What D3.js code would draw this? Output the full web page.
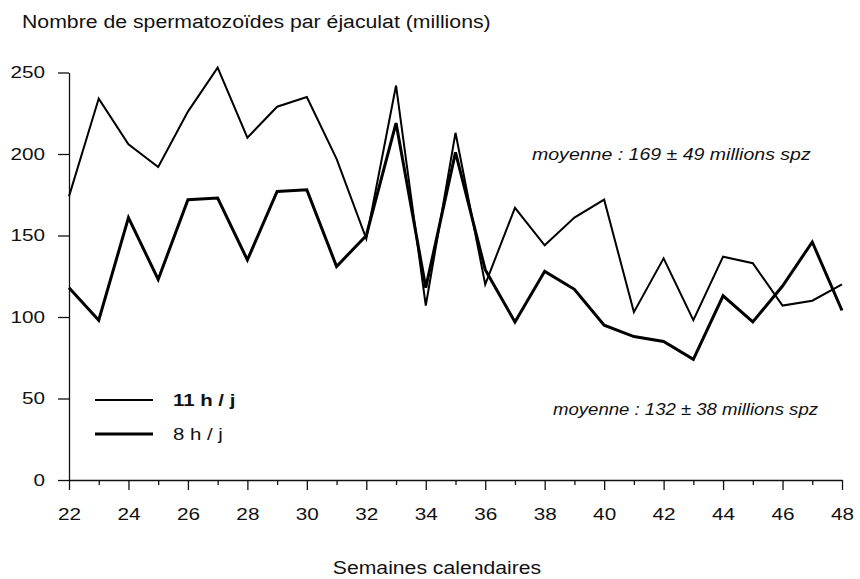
<!DOCTYPE html>
<html>
<head>
<meta charset="utf-8">
<script src="https://cdn.jsdelivr.net/npm/d3@7"></script>
<style>
  body { margin: 0; background: #fff; }
  svg text { font-family: "Liberation Sans", Arial, Helvetica, sans-serif; fill: #111; }
</style>
</head>
<body>
<svg id="chart" width="860" height="579"></svg>
<script>
// semaines calendaires
var weeks = [22,23,24,25,26,27,28,29,30,31,32,33,34,35,36,37,38,39,40,41,42,43,44,45,46,47,48];
// 11 h / j  (moyenne 169)
var h11 = [174,234,206,192,226,253,210,229,235,197,148,242,107,213,120,167,144,161,172,103,136,98,137,133,107,110,120];
// 8 h / j  (moyenne 132)
var h8 = [118,98,161,123,172,173,135,177,178,131,150,219,118,201,129,97,128,117,95,88,85,74,113,97,119,146,104];
var yTicks = [0,50,100,150,200,250];

var svg = d3.select("#chart");

// the scanned type is wider than Liberation Sans, stretch it a bit
function stretch(sel, k){
  sel.each(function(){
    var w = this.getComputedTextLength();
    if (w > 0) d3.select(this).attr("textLength", w*k).attr("lengthAdjust","spacingAndGlyphs");
  });
}

var x = d3.scaleLinear().domain([22,48]).range([69,842]);
var y = d3.scaleLinear().domain([0,250]).range([480,72.5]);
var kx = 1.22;

// axe y
var gy = svg.append("g").attr("transform","translate(69,0)")
  .call(d3.axisLeft(y).tickValues(yTicks).tickSize(11).tickSizeOuter(0).tickPadding(13));
gy.selectAll("text").style("font-size","17px")
  .attr("x", -24/kx).attr("transform", "scale(" + kx + ",1)");

// axe x
var gx = svg.append("g").attr("transform","translate(0,480)")
  .call(d3.axisBottom(x).tickValues(weeks).tickSize(10).tickSizeOuter(0).tickPadding(18)
    .tickFormat(d => d % 2 == 0 ? d : ""));
gx.selectAll(".tick line").attr("y2", d => d % 2 == 0 ? 10 : 5);
gx.selectAll("text").style("font-size","17px").attr("transform", "scale(" + kx + ",1)");

svg.selectAll(".domain, .tick line").attr("stroke","#111").attr("stroke-width",1.3);

// courbes
var line = d3.line().x((d,i) => x(weeks[i])).y(d => y(d));

svg.append("path").datum(h11)
  .attr("d", line).attr("fill","none").attr("stroke","#000")
  .attr("stroke-width",2).attr("stroke-linejoin","miter");

svg.append("path").datum(h8)
  .attr("d", line).attr("fill","none").attr("stroke","#000")
  .attr("stroke-width",3).attr("stroke-linejoin","miter");

// titres
svg.append("text").attr("x",22).attr("y",28)
  .style("font-size","18px")
  .text("Nombre de spermatozoïdes par éjaculat (millions)")
  .call(stretch, 1.18);

svg.append("text").attr("x",437).attr("y",574)
  .attr("text-anchor","middle").style("font-size","17.5px")
  .text("Semaines calendaires")
  .call(stretch, 1.21);

// moyennes
svg.append("text").attr("x",532).attr("y",160)
  .style("font-size","16px").style("font-style","italic")
  .text("moyenne : 169 ± 49 millions spz")
  .call(stretch, 1.22);

svg.append("text").attr("x",553).attr("y",415)
  .style("font-size","16px").style("font-style","italic")
  .text("moyenne : 132 ± 38 millions spz")
  .call(stretch, 1.16);

// légende
var legend = [{label:"11 h / j", w:2, bold:true}, {label:"8 h / j", w:3, bold:false}];
var lg = svg.append("g").attr("transform","translate(95,400)");
lg.selectAll("line").data(legend).enter().append("line")
  .attr("x1",0).attr("x2",58)
  .attr("y1",(d,i)=>i*34).attr("y2",(d,i)=>i*34)
  .attr("stroke","#000").attr("stroke-width",d=>d.w);
lg.selectAll("text").data(legend).enter().append("text")
  .attr("x",78).attr("y",(d,i)=>i*34+6)
  .style("font-size","17px")
  .style("font-weight",d=>d.bold ? "bold" : null)
  .text(d=>d.label)
  .call(stretch, 1.2);
</script>
</body>
</html>
